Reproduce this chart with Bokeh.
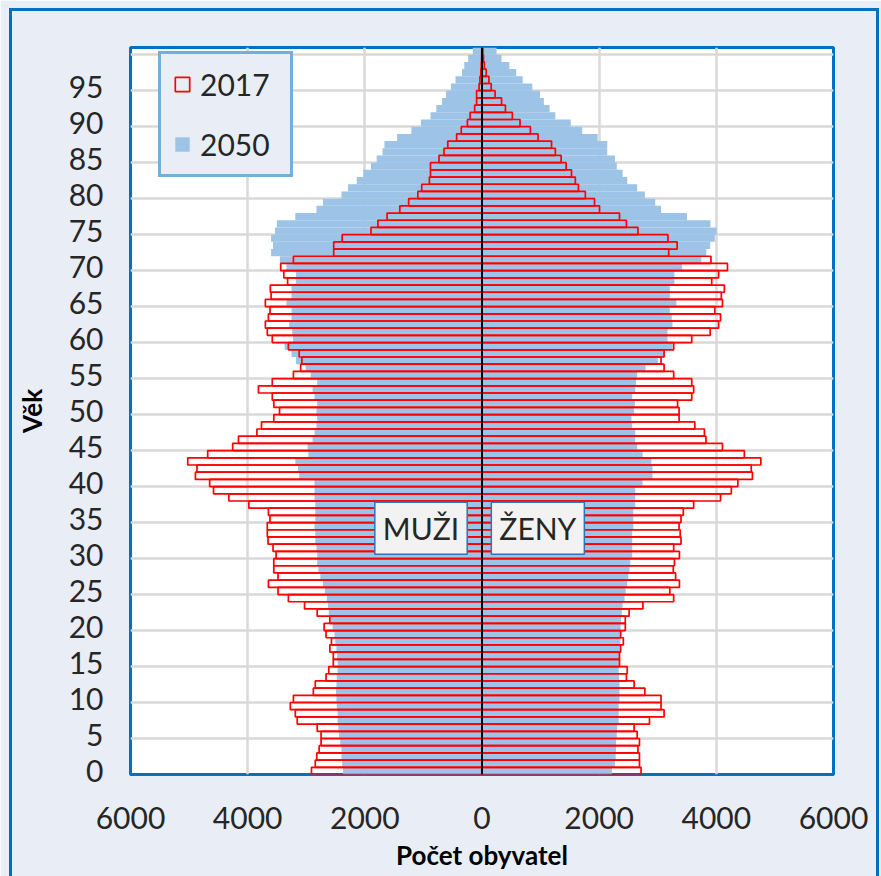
from bokeh.plotting import figure
from bokeh.models import (Range1d, FixedTicker, CustomJSTickFormatter, Legend, LegendItem,
                          Span, ColumnDataSource, Label, InlineStyleSheet)
from bokeh.embed import file_html
from bokeh.resources import INLINE

# ---------------- data ----------------
ages = list(range(0, 101))

male_2017 = [2911, 2846, 2820, 2780, 2747, 2747, 2813, 3154, 3187, 3272,
             3219, 2879, 2846, 2662, 2616, 2538, 2538, 2597, 2570, 2662,
             2695, 2597, 2813, 3029, 3305, 3482, 3646, 3482, 3554, 3554,
             3515, 3567, 3652, 3665, 3665, 3619, 3646, 3980, 4321, 4583,
             4649, 4892, 4865, 5023, 4682, 4256, 4157, 3842, 3764, 3554,
             3456, 3554, 3580, 3816, 3580, 3219, 3095, 3075, 3121, 3305,
             3580, 3665, 3698, 3646, 3619, 3698, 3600, 3613, 3318, 3383,
             3436, 3219, 2531, 2531, 2387, 1895, 1777, 1620, 1403, 1252,
             1095, 1029, 898, 879, 879, 734, 649, 584, 433, 354,
             249, 203, 125, 92, 92, 50, 35, 20, 12, 6, 4]

female_2017 = [2715, 2688, 2688, 2662, 2688, 2649, 2597, 2859, 3108, 3056,
               3056, 2780, 2597, 2465, 2479, 2347, 2347, 2367, 2413, 2367,
               2446, 2446, 2511, 2747, 3272, 3206, 3370, 3305, 3265, 3285,
               3370, 3272, 3397, 3383, 3364, 3397, 3436, 3613, 4072, 4256,
               4367, 4616, 4596, 4760, 4478, 4105, 3823, 3797, 3633, 3364,
               3364, 3338, 3580, 3613, 3580, 3272, 3108, 3056, 3108, 3272,
               3580, 3895, 4039, 4072, 3974, 4105, 4085, 4137, 3921, 4039,
               4190, 3908, 3187, 3331, 3174, 2662, 2465, 2347, 2006, 1921,
               1764, 1646, 1593, 1528, 1436, 1351, 1252, 1187, 957, 826,
               649, 518, 400, 334, 223, 157, 118, 72, 40, 25, 15]

male_2050 = [2374, 2387, 2400, 2400, 2420, 2439, 2452, 2465, 2465, 2479,
             2485, 2492, 2485, 2479, 2465, 2465, 2472, 2485, 2505, 2518,
             2551, 2583, 2616, 2629, 2649, 2682, 2715, 2760, 2793, 2813,
             2813, 2826, 2846, 2846, 2859, 2846, 2846, 2846, 2859, 2859,
             2859, 3121, 3141, 3187, 2964, 2977, 2892, 2859, 2826, 2813,
             2826, 2813, 2859, 2892, 2813, 2924, 3010, 3174, 3252, 3370,
             3226, 3239, 3292, 3252, 3252, 3338, 3252, 3252, 3174, 3174,
             3338, 3450, 3600, 3567, 3600, 3534, 3502, 3187, 2826, 2715,
             2400, 2288, 2138, 2026, 1895, 1797, 1698, 1665, 1449, 1206,
             1043, 879, 780, 682, 616, 531, 452, 341, 302, 236, 157]

female_2050 = [2216, 2269, 2282, 2288, 2288, 2301, 2308, 2334, 2334, 2334,
               2347, 2347, 2347, 2340, 2334, 2334, 2347, 2354, 2360, 2360,
               2367, 2374, 2387, 2400, 2433, 2452, 2479, 2498, 2518, 2531,
               2564, 2564, 2564, 2564, 2583, 2583, 2583, 2616, 2616, 2616,
               2741, 2911, 2911, 2892, 2741, 2649, 2616, 2616, 2564, 2551,
               2597, 2610, 2564, 2616, 2629, 2649, 2793, 3000, 3121, 3252,
               3167, 3167, 3252, 3239, 3206, 3318, 3206, 3206, 3285, 3285,
               3416, 3744, 3829, 3895, 3974, 4006, 3900, 3500, 3056, 2957,
               2780, 2649, 2479, 2400, 2301, 2269, 2138, 2138, 1974, 1711,
               1515, 1252, 1154, 1056, 990, 859, 695, 584, 466, 334, 249]

series_labels = ["2017", "2050"]
side_labels = ["MUŽI", "ŽENY"]
x_ticks = [-6000, -4000, -2000, 0, 2000, 4000, 6000]
y_ticks = list(range(0, 100, 5))
y_grid_lines = [t + 4.5 for t in range(0, 100, 5)]
x_title = "Počet obyvatel"
y_title = "Věk"

# ---------------- styles ----------------
BLUE = "#9DC3E6"
RED = "#FF0000"
FRAME_BLUE = "#0070C0"
BG = "#E9EEF6"
TXT = "#262626"
FONT = "Lato"

src = ColumnDataSource(dict(
    age=ages,
    m17=[-v for v in male_2017], f17=female_2017,
    m50=[-v for v in male_2050], f50=female_2050,
))

p = figure(width=881, height=876, output_backend="svg", toolbar_location=None,
           x_range=Range1d(-6000, 6000), y_range=Range1d(-0.5, 100.5),
           min_border_left=130, min_border_right=48, min_border_top=47,
           min_border_bottom=102)
p.background_fill_color = "white"
p.border_fill_color = BG
p.outline_line_color = FRAME_BLUE
p.outline_line_width = 3

# bars
b50m = p.hbar(y="age", left="m50", right=0, height=1.0, source=src,
              fill_color=BLUE, line_color=None)
b50f = p.hbar(y="age", left=0, right="f50", height=1.0, source=src,
              fill_color=BLUE, line_color=None)
r17m = p.hbar(y="age", left="m17", right=0, height=1.0, source=src,
              fill_color=None, line_color=RED, line_width=1.7)
r17f = p.hbar(y="age", left=0, right="f17", height=1.0, source=src,
              fill_color=None, line_color=RED, line_width=1.7)

p.add_layout(Span(location=0, dimension="height", line_color="black", line_width=2))

# axes
p.xaxis.ticker = FixedTicker(ticks=x_ticks)
p.xaxis.formatter = CustomJSTickFormatter(code="return Math.abs(tick).toString();")
p.yaxis.ticker = FixedTicker(ticks=y_ticks)
for ax in (p.xaxis, p.yaxis):
    ax.axis_line_color = None
    ax.major_tick_line_color = None
    ax.minor_tick_line_color = None
    ax.major_tick_out = 0
    ax.major_tick_in = 0
    ax.minor_tick_out = 0
    ax.major_label_text_font = FONT
    ax.major_label_text_font_size = "30px"
    ax.major_label_text_color = TXT
    ax.axis_label_text_font = FONT
    ax.axis_label_text_font_size = "26px"
    ax.axis_label_text_font_style = "bold"
    ax.axis_label_text_color = "black"
p.xaxis.major_label_standoff = 32
p.xaxis.axis_label = x_title
p.xaxis.axis_label_standoff = 7
p.yaxis.major_label_standoff = 27
p.yaxis.axis_label = y_title
p.yaxis.axis_label_standoff = 18

# grid
p.xgrid.ticker = FixedTicker(ticks=x_ticks)
p.ygrid.ticker = FixedTicker(ticks=y_grid_lines)
for g in (p.xgrid, p.ygrid):
    g.grid_line_color = "#D9D9D9"
    g.grid_line_width = 2.5

# side labels
for xc, txt in ((-1041, side_labels[0]), (953, side_labels[1])):
    p.add_layout(Label(x=xc, y=33.7, text=txt, text_align="center", text_baseline="middle",
                       text_font=FONT, text_font_size="30px", text_color=TXT,
                       background_fill_color="#F2F2F2", border_line_color="#2E75B6",
                       border_line_width=1.5, padding=8))

# legend
legend = Legend(items=[LegendItem(label=series_labels[0], renderers=[r17m]),
                       LegendItem(label=series_labels[1], renderers=[b50m])],
                location=(28, 597))
legend.border_line_color = FRAME_BLUE
legend.border_line_width = 3
legend.background_fill_color = BG
legend.background_fill_alpha = 1
legend.label_text_font = FONT
legend.label_text_font_size = "30px"
legend.label_text_color = TXT
legend.glyph_width = 18
legend.glyph_height = 18
legend.label_standoff = 9
legend.padding = 12
legend.spacing = 24
legend.margin = 0
legend.label_width = 78
p.add_layout(legend)

# outer chart border (CSS overlay on the figure element)
p.stylesheets = [InlineStyleSheet(css="""
:host { position: relative; overflow: hidden; }
:host::after {
  content: ""; position: absolute; left: 9px; top: 8px; right: 2px; bottom: -12px;
  border: 3px solid #0070C0; pointer-events: none; z-index: 10;
}
""")]

open("out.html", "w").write(file_html(p, INLINE))
